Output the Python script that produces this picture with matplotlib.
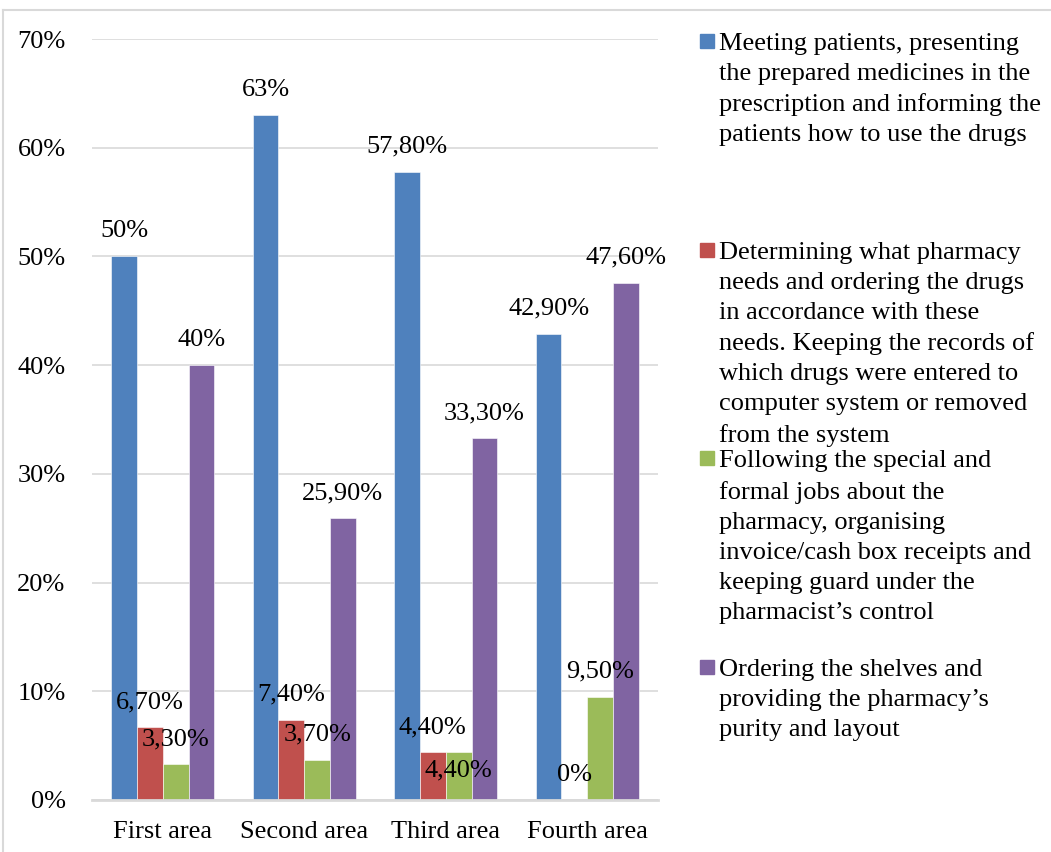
import numpy as np
import matplotlib.pyplot as plt
from matplotlib.patches import Rectangle
from matplotlib.lines import Line2D
from matplotlib.ticker import PercentFormatter

# data
areas = ["First area", "Second area", "Third area", "Fourth area"]
meeting = [50.0, 63.0, 57.8, 42.9]
determining = [6.7, 7.4, 4.4, 0.0]
following = [3.3, 3.7, 4.4, 9.5]
ordering = [40.0, 25.9, 33.3, 47.6]

series_names = [
    "Meeting patients, presenting\nthe prepared medicines in the\nprescription and informing the\npatients how to use the drugs",
    "Determining what pharmacy\nneeds and ordering the drugs\nin accordance with these\nneeds. Keeping the records of\nwhich drugs were entered to\ncomputer system or removed\nfrom the system",
    "Following the special and\nformal jobs about the\npharmacy, organising\ninvoice/cash box receipts and\nkeeping guard under the\npharmacist\u2019s control",
    "Ordering the shelves and\nproviding the pharmacy\u2019s\npurity and layout",
]
colors = ["#4F81BD", "#C0504D", "#9BBB59", "#8064A2"]

def pct_label(v):
    # excel style labels: whole numbers without decimals, others with a decimal comma
    if v == 0 or v in (50.0, 63.0, 40.0):
        return f"{int(v)}%"
    return f"{v:.2f}".replace(".", ",") + "%"

plt.rcParams["font.family"] = ["Liberation Serif", "DejaVu Serif"]
FS = 19

fig = plt.figure(figsize=(10.51, 8.52), dpi=100)
ax = fig.add_axes([92 / 1051, 52 / 852, 566 / 1051, 761 / 852])

all_vals = [meeting, determining, following, ordering]
x = np.arange(len(areas))
bw = 0.182
# label offsets in points (one label was moved into the bar in the original)
special_offset = {(2, 2): -13}

for i, vals in enumerate(all_vals):
    pos = x + (i - 1.5) * bw
    bars = ax.bar(pos, vals, width=bw, color=colors[i], edgecolor="white",
                  linewidth=0.4, zorder=3)
    for j, (b, v) in enumerate(zip(bars, vals)):
        off = special_offset.get((i, j), 18)
        ax.annotate(pct_label(v), (b.get_x() + b.get_width() / 2, v),
                    xytext=(0, off), textcoords="offset points",
                    ha="center", va="center", fontsize=FS, zorder=4)

ax.set_xlim(-0.5, len(areas) - 0.5)
ax.set_ylim(0, 70)
ax.set_yticks(np.arange(0, 71, 10))
ax.yaxis.set_major_formatter(PercentFormatter(decimals=0))
ax.set_xticks(x)
ax.set_xticklabels(areas)
ax.tick_params(axis="both", length=0, labelsize=FS)
ax.tick_params(axis="y", pad=19)
ax.tick_params(axis="x", pad=15)
ax.grid(axis="y", color="#D9D9D9", linewidth=1.2, zorder=0)
for s in ["top", "right", "left"]:
    ax.spines[s].set_visible(False)
ax.spines["bottom"].set_color("#D9D9D9")
ax.spines["bottom"].set_linewidth(2)
ax.spines["bottom"].set_zorder(5)

# legend drawn by hand: equal spacing between entries like the original
W, H = 1051, 852
first_y = 41
step = 208.7
for i, name in enumerate(series_names):
    yc = first_y + i * step
    fig.add_artist(Rectangle((700 / W, 1 - (yc + 7) / H), 14 / W, 14 / H,
                             transform=fig.transFigure, color=colors[i]))
    fig.text(719 / W, 1 - (yc - 8) / H, name, ha="left", va="top",
             fontsize=FS, linespacing=1.47)

# outer chart border (only top/left fall inside the image)
fig.add_artist(Line2D([3 / W, 3 / W], [-0.1, 1 - 10 / H], color="#D9D9D9",
                      linewidth=1.5, transform=fig.transFigure))
fig.add_artist(Line2D([3 / W, 1.1], [1 - 10 / H, 1 - 10 / H], color="#D9D9D9",
                      linewidth=1.5, transform=fig.transFigure))

fig.savefig("out.png", dpi=100, facecolor="white")
